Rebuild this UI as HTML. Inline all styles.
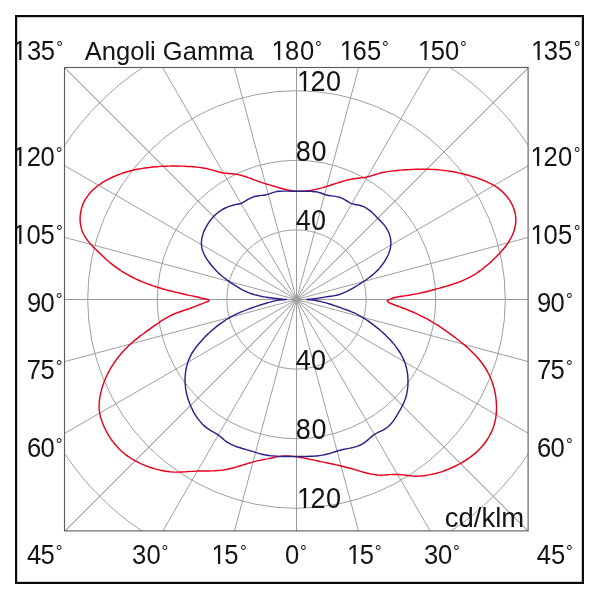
<!DOCTYPE html>
<html lang="it"><head><meta charset="utf-8"><title>Angoli Gamma</title>
<style>html,body{margin:0;padding:0;background:#fff}body{width:600px;height:600px;overflow:hidden}svg{display:block}text{font-family:"Liberation Sans",sans-serif;fill:#141414}</style></head><body>
<svg width="600" height="600" viewBox="0 0 600 600">
<rect x="0" y="0" width="600" height="600" fill="#fff"/>
<defs><clipPath id="c"><rect x="64.5" y="67.5" width="463.6" height="463.4"/></clipPath>
<clipPath id="one"><path clip-rule="evenodd" d="M-5,-40H140V12H-5Z M1.35,-2.62H6.48V2H1.35Z M8.65,-2.62H13.43V2H8.65Z"/></clipPath><clipPath id="oneb"><path clip-rule="evenodd" d="M-5,-40H140V12H-5Z M1.45,-2.72H6.83V2H1.45Z M9.13,-2.72H14.14V2H9.13Z"/></clipPath></defs>
<g clip-path="url(#c)" fill="none" stroke="#9f9f9f" stroke-width="1">
<circle cx="296.5" cy="299.5" r="69.6"/>
<circle cx="296.5" cy="299.5" r="139.2"/>
<circle cx="296.5" cy="299.5" r="208.8"/>
<circle cx="296.5" cy="299.5" r="278.4"/>
<line x1="296.5" y1="299.5" x2="296.5" y2="699.5" stroke="#9a9a9a"/>
<line x1="296.5" y1="299.5" x2="400.03" y2="685.87"/>
<line x1="296.5" y1="299.5" x2="496.5" y2="645.91"/>
<line x1="296.5" y1="299.5" x2="579.34" y2="582.34" stroke-width="1.04"/>
<line x1="296.5" y1="299.5" x2="642.91" y2="499.5"/>
<line x1="296.5" y1="299.5" x2="682.87" y2="403.03"/>
<line x1="296.5" y1="299.5" x2="696.5" y2="299.5" stroke="#9a9a9a"/>
<line x1="296.5" y1="299.5" x2="682.87" y2="195.97"/>
<line x1="296.5" y1="299.5" x2="642.91" y2="99.5"/>
<line x1="296.5" y1="299.5" x2="579.34" y2="16.66" stroke-width="1.04"/>
<line x1="296.5" y1="299.5" x2="496.5" y2="-46.91"/>
<line x1="296.5" y1="299.5" x2="400.03" y2="-86.87"/>
<line x1="296.5" y1="299.5" x2="296.5" y2="-100.5" stroke="#9a9a9a"/>
<line x1="296.5" y1="299.5" x2="192.97" y2="-86.87"/>
<line x1="296.5" y1="299.5" x2="96.5" y2="-46.91"/>
<line x1="296.5" y1="299.5" x2="13.66" y2="16.66" stroke-width="1.04"/>
<line x1="296.5" y1="299.5" x2="-49.91" y2="99.5"/>
<line x1="296.5" y1="299.5" x2="-89.87" y2="195.97"/>
<line x1="296.5" y1="299.5" x2="-103.5" y2="299.5" stroke="#9a9a9a"/>
<line x1="296.5" y1="299.5" x2="-89.87" y2="403.03"/>
<line x1="296.5" y1="299.5" x2="-49.91" y2="499.5"/>
<line x1="296.5" y1="299.5" x2="13.66" y2="582.34" stroke-width="1.04"/>
<line x1="296.5" y1="299.5" x2="96.5" y2="645.91"/>
<line x1="296.5" y1="299.5" x2="192.97" y2="685.87"/>
</g>
<circle cx="296.5" cy="299.5" r="2.8" fill="#9f9f9f"/>
<rect x="64.5" y="67.5" width="463.6" height="463.4" fill="none" stroke="#5a5a5a" stroke-width="1.1"/>
<path d="M207.9,299.7C207.1 299.4 205.3 299 204 298.7C202.7 298.4 201.4 298.1 200.1 297.8C198.8 297.4 197.5 297.1 196.2 296.8C194.9 296.5 193.6 296.2 192.3 295.9C191 295.7 189.7 295.4 188.4 295.1C187.1 294.8 185.8 294.5 184.4 294.2C183.1 293.9 181.8 293.6 180.5 293.3C179.2 293 177.9 292.7 176.6 292.4C175.3 292.1 173.9 291.8 172.6 291.4C171.3 291.1 170 290.8 168.7 290.5C167.4 290.1 166.1 289.8 164.8 289.4C163.5 289.1 162.2 288.7 160.9 288.3C159.6 287.9 158.4 287.5 157.1 287.1C155.8 286.7 154.5 286.3 153.2 285.9C152 285.4 150.7 285 149.4 284.5C148.2 284.1 146.9 283.6 145.7 283.1C144.4 282.6 143.2 282.1 141.9 281.6C140.7 281.1 139.5 280.6 138.2 280C137 279.5 135.8 278.9 134.6 278.3C133.4 277.7 132.2 277.1 131 276.5C129.8 275.9 128.6 275.3 127.5 274.6C126.3 274 125.1 273.3 124 272.6C122.9 271.9 121.7 271.2 120.6 270.5C119.5 269.8 118.4 269 117.3 268.2C116.2 267.5 115.1 266.7 114 265.9C112.9 265 111.9 264.2 110.8 263.4C109.8 262.5 108.8 261.6 107.7 260.7C106.7 259.8 105.7 258.9 104.7 258C103.7 257.1 102.8 256.1 101.8 255.2C100.8 254.3 99.9 253.4 98.9 252.5C98 251.6 97 250.7 96.1 249.7C95.1 248.8 94.2 247.9 93.3 246.9C92.4 246 91.4 245 90.5 244C89.6 243 88.7 241.9 87.9 240.9C87.1 239.8 86.2 238.7 85.5 237.5C84.8 236.4 84.1 235.2 83.5 234C82.9 232.7 82.4 231.5 81.9 230.2C81.5 228.9 81.1 227.6 80.8 226.2C80.6 224.9 80.4 223.6 80.2 222.2C80.1 220.9 80.1 219.5 80.1 218.1C80.1 216.8 80.2 215.4 80.4 214.1C80.5 212.7 80.8 211.4 81.1 210.1C81.4 208.7 81.8 207.4 82.2 206.2C82.6 204.9 83.1 203.6 83.7 202.4C84.3 201.2 84.9 200 85.6 198.9C86.3 197.7 87.1 196.6 87.9 195.6C88.7 194.5 89.5 193.5 90.4 192.5C91.3 191.5 92.3 190.6 93.3 189.6C94.2 188.7 95.3 187.8 96.3 187C97.4 186.1 98.5 185.3 99.6 184.5C100.7 183.7 101.9 183 103 182.2C104.2 181.5 105.4 180.8 106.6 180.2C107.8 179.5 109 178.9 110.2 178.3C111.4 177.7 112.6 177.1 113.9 176.5C115.1 176 116.3 175.5 117.6 175C118.9 174.5 120.1 174 121.4 173.6C122.7 173.1 123.9 172.7 125.2 172.3C126.5 171.9 127.8 171.5 129.1 171.2C130.4 170.8 131.7 170.5 133 170.2C134.3 169.9 135.6 169.6 136.9 169.3C138.2 169.1 139.6 168.8 140.9 168.6C142.2 168.4 143.5 168.2 144.9 168C146.2 167.8 147.5 167.6 148.9 167.5C150.2 167.3 151.5 167.2 152.9 167C154.2 166.9 155.5 166.8 156.9 166.7C158.2 166.6 159.5 166.5 160.9 166.4C162.2 166.3 163.5 166.3 164.9 166.2C166.2 166.2 167.5 166.1 168.9 166.1C170.2 166.1 171.5 166 172.9 166C174.2 166 175.5 166 176.9 166C178.2 166.1 179.5 166.1 180.9 166.1C182.2 166.1 183.5 166.2 184.9 166.2C186.2 166.3 187.5 166.4 188.9 166.4C190.2 166.5 191.6 166.6 192.9 166.7C194.2 166.8 195.6 166.9 196.9 167.1C198.3 167.2 199.6 167.4 200.9 167.6C202.2 167.8 203.6 168 204.9 168.3C206.2 168.5 207.5 168.8 208.8 169.1C210.1 169.5 211.4 169.8 212.7 170.2C214 170.6 215.2 171 216.5 171.3C217.8 171.7 219.1 172 220.4 172.3C221.8 172.6 223.1 172.9 224.4 173.1C225.7 173.2 227.1 173.4 228.5 173.5C229.8 173.6 231.2 173.7 232.6 173.8C233.9 174 235.3 174.1 236.6 174.3C237.9 174.6 239.2 174.8 240.6 175.2C241.9 175.5 243.1 175.9 244.4 176.3C245.7 176.7 247 177.1 248.2 177.6C249.5 178 250.8 178.5 252 179C253.3 179.5 254.5 180 255.8 180.4C257 180.9 258.3 181.3 259.6 181.8C260.8 182.2 262.1 182.6 263.4 183.1C264.7 183.5 265.9 183.9 267.2 184.2C268.5 184.6 269.8 185 271.1 185.4C272.4 185.8 273.7 186.1 275 186.5C276.3 186.9 277.6 187.3 278.9 187.7C280.2 188 281.5 188.4 282.8 188.7C284.1 189.1 285.4 189.4 286.8 189.7C288.1 190 289.4 190.3 290.7 190.5C292.1 190.7 293.4 190.9 294.7 191.1C296.1 191.2 297.4 191.3 298.7 191.3C300.1 191.4 301.4 191.3 302.8 191.3C304.1 191.2 305.4 191.1 306.8 190.9C308.1 190.8 309.5 190.6 310.8 190.4C312.1 190.1 313.5 189.9 314.8 189.6C316.2 189.3 317.5 189 318.8 188.6C320.1 188.3 321.5 187.9 322.8 187.6C324.1 187.2 325.4 186.8 326.7 186.4C328 186 329.3 185.6 330.6 185.2C331.9 184.7 333.2 184.3 334.4 183.9C335.7 183.5 337 183.1 338.3 182.7C339.5 182.3 340.8 181.9 342.1 181.5C343.3 181.1 344.6 180.7 345.9 180.4C347.2 180.1 348.5 179.8 349.8 179.5C351.1 179.2 352.4 179 353.7 178.7C355 178.5 356.4 178.4 357.8 178.2C359.1 178.1 360.5 177.9 361.9 177.8C363.2 177.6 364.6 177.4 365.9 177.2C367.3 176.9 368.6 176.6 369.9 176.3C371.2 175.9 372.5 175.5 373.7 175.1C375 174.7 376.3 174.3 377.6 173.9C378.8 173.5 380.1 173.1 381.4 172.8C382.7 172.5 384 172.2 385.3 172C386.6 171.7 387.9 171.5 389.2 171.4C390.6 171.2 391.9 171 393.2 170.9C394.6 170.7 395.9 170.6 397.2 170.5C398.6 170.4 399.9 170.2 401.2 170.1C402.6 170 403.9 169.9 405.3 169.8C406.6 169.7 408 169.7 409.3 169.6C410.7 169.5 412 169.4 413.4 169.4C414.7 169.3 416.1 169.3 417.4 169.2C418.8 169.2 420.1 169.2 421.5 169.2C422.8 169.2 424.2 169.2 425.5 169.2C426.9 169.2 428.2 169.2 429.5 169.3C430.9 169.3 432.2 169.4 433.6 169.4C434.9 169.5 436.2 169.6 437.6 169.7C438.9 169.8 440.3 170 441.6 170.1C442.9 170.2 444.2 170.4 445.6 170.6C446.9 170.8 448.2 171 449.5 171.2C450.9 171.4 452.2 171.6 453.5 171.8C454.8 172.1 456.1 172.4 457.4 172.6C458.7 172.9 460 173.2 461.4 173.5C462.7 173.8 464 174.1 465.2 174.5C466.5 174.8 467.8 175.2 469.1 175.5C470.4 175.9 471.7 176.3 473 176.7C474.3 177.1 475.5 177.5 476.8 177.9C478.1 178.4 479.4 178.8 480.6 179.3C481.9 179.7 483.1 180.2 484.4 180.7C485.6 181.3 486.8 181.8 488.1 182.4C489.3 182.9 490.4 183.5 491.6 184.2C492.8 184.8 493.9 185.5 495.1 186.2C496.2 186.9 497.3 187.6 498.4 188.4C499.4 189.2 500.5 190 501.5 190.9C502.5 191.8 503.5 192.7 504.4 193.7C505.3 194.7 506.3 195.7 507.1 196.8C508 197.9 508.8 199 509.6 200.2C510.3 201.3 511 202.6 511.7 203.8C512.3 205 512.9 206.3 513.4 207.6C513.9 208.8 514.4 210.2 514.7 211.5C515.1 212.8 515.4 214.1 515.5 215.5C515.7 216.8 515.8 218.2 515.8 219.5C515.8 220.9 515.7 222.2 515.6 223.6C515.4 224.9 515.2 226.2 514.9 227.6C514.6 228.9 514.2 230.2 513.8 231.5C513.3 232.8 512.8 234 512.3 235.3C511.7 236.5 511.1 237.7 510.4 238.9C509.8 240.1 509.1 241.2 508.4 242.4C507.6 243.5 506.9 244.6 506.1 245.7C505.3 246.8 504.4 247.8 503.6 248.8C502.7 249.9 501.8 250.9 500.9 251.9C500 252.9 499.1 253.9 498.1 254.8C497.2 255.8 496.3 256.8 495.3 257.7C494.3 258.6 493.4 259.6 492.4 260.5C491.4 261.4 490.5 262.3 489.5 263.2C488.5 264.1 487.5 265 486.4 265.8C485.4 266.7 484.4 267.5 483.4 268.3C482.3 269.1 481.3 269.9 480.2 270.7C479.1 271.5 478 272.3 476.9 273C475.8 273.8 474.6 274.5 473.5 275.2C472.3 275.8 471.1 276.5 470 277.1C468.8 277.8 467.6 278.4 466.3 278.9C465.1 279.5 463.9 280.1 462.6 280.6C461.4 281.1 460.2 281.6 458.9 282.1C457.6 282.5 456.4 283 455.1 283.4C453.8 283.9 452.5 284.3 451.2 284.7C449.9 285.1 448.6 285.5 447.4 285.9C446.1 286.3 444.8 286.7 443.4 287C442.1 287.4 440.8 287.8 439.6 288.1C438.3 288.5 437 288.8 435.7 289.2C434.4 289.5 433.1 289.9 431.8 290.2C430.5 290.6 429.2 290.9 427.9 291.2C426.6 291.6 425.3 291.9 424 292.2C422.7 292.5 421.4 292.8 420.1 293.1C418.8 293.4 417.5 293.7 416.2 293.9C414.9 294.2 413.5 294.4 412.2 294.6C410.9 294.8 409.5 295.1 408.2 295.3C406.9 295.5 405.5 295.7 404.2 295.9C402.8 296.1 401.5 296.3 400.1 296.5C398.8 296.8 397.5 297 396.1 297.2C394.8 297.5 393.5 297.8 392.3 298.2C391 298.7 389.4 299.3 388.6 299.8C387.8 300.3 387.3 300.6 387.3 301C387.3 301.4 387.8 301.8 388.6 302.3C389.4 302.8 391 303.5 392.2 304C393.4 304.5 394.7 305 395.9 305.5C397.2 305.9 398.5 306.4 399.7 306.9C401 307.3 402.2 307.8 403.5 308.3C404.8 308.7 406 309.2 407.2 309.7C408.5 310.2 409.7 310.7 410.9 311.3C412.2 311.8 413.4 312.3 414.6 312.9C415.8 313.4 417.1 314 418.3 314.6C419.5 315.1 420.7 315.7 421.9 316.3C423.1 316.9 424.3 317.5 425.5 318.2C426.7 318.8 427.9 319.4 429.1 320.1C430.2 320.8 431.4 321.4 432.5 322.1C433.7 322.8 434.8 323.5 435.9 324.2C437.1 324.9 438.2 325.6 439.3 326.4C440.4 327.1 441.5 327.8 442.6 328.6C443.8 329.3 444.9 330.1 445.9 330.9C447 331.6 448.1 332.4 449.2 333.2C450.3 334 451.4 334.8 452.5 335.6C453.6 336.4 454.6 337.2 455.7 338C456.8 338.8 457.9 339.6 458.9 340.5C460 341.3 461 342.2 462.1 343C463.1 343.9 464.1 344.7 465.2 345.6C466.2 346.5 467.2 347.4 468.2 348.3C469.2 349.2 470.2 350.1 471.1 351.1C472.1 352 473.1 352.9 474 353.9C474.9 354.9 475.8 355.8 476.7 356.8C477.6 357.8 478.5 358.8 479.3 359.8C480.2 360.9 481 361.9 481.8 363C482.6 364 483.3 365.1 484.1 366.2C484.8 367.3 485.5 368.4 486.2 369.5C486.9 370.6 487.6 371.8 488.2 373C488.8 374.1 489.4 375.3 489.9 376.5C490.5 377.8 491 379 491.5 380.2C492 381.5 492.4 382.7 492.8 384C493.2 385.3 493.6 386.6 493.9 387.9C494.3 389.2 494.6 390.5 494.9 391.9C495.2 393.2 495.4 394.5 495.6 395.9C495.8 397.2 496 398.6 496.1 399.9C496.2 401.2 496.4 402.6 496.4 403.9C496.5 405.2 496.5 406.6 496.5 407.9C496.5 409.2 496.5 410.6 496.4 411.9C496.3 413.2 496.2 414.5 496 415.9C495.9 417.2 495.7 418.5 495.4 419.8C495.1 421.1 494.8 422.5 494.4 423.8C494.1 425.1 493.6 426.4 493.2 427.7C492.7 429 492.2 430.3 491.6 431.6C491.1 432.8 490.5 434 489.8 435.2C489.2 436.4 488.5 437.6 487.8 438.7C487.1 439.9 486.4 441 485.6 442C484.8 443.1 484 444.2 483.1 445.2C482.3 446.2 481.4 447.2 480.5 448.1C479.6 449.1 478.7 450 477.7 450.9C476.7 451.9 475.8 452.7 474.7 453.6C473.7 454.5 472.7 455.3 471.6 456.1C470.6 456.9 469.5 457.7 468.4 458.4C467.3 459.2 466.2 460 465.1 460.7C464 461.4 462.8 462.1 461.6 462.8C460.5 463.4 459.3 464.1 458.1 464.7C456.9 465.4 455.7 466 454.5 466.5C453.3 467.1 452.1 467.7 450.9 468.2C449.6 468.8 448.4 469.3 447.1 469.8C445.9 470.2 444.6 470.7 443.3 471.1C442 471.6 440.8 472 439.5 472.4C438.2 472.8 436.9 473.1 435.6 473.5C434.3 473.8 433 474.1 431.6 474.4C430.3 474.7 429 474.9 427.7 475.1C426.4 475.4 425 475.6 423.7 475.7C422.4 475.9 421 476 419.7 476.1C418.4 476.1 417 476.2 415.7 476.2C414.3 476.1 413 476.1 411.6 475.9C410.3 475.8 409 475.7 407.6 475.5C406.3 475.3 404.9 475.1 403.6 474.9C402.2 474.8 400.9 474.6 399.6 474.5C398.2 474.4 396.9 474.4 395.5 474.4C394.2 474.4 392.8 474.4 391.5 474.5C390.1 474.6 388.8 474.7 387.4 474.8C386.1 474.9 384.7 475.1 383.4 475.1C382.1 475.2 380.7 475.2 379.4 475.1C378.1 475.1 376.7 475 375.4 474.8C374.1 474.6 372.8 474.4 371.5 474.1C370.1 473.9 368.8 473.6 367.5 473.3C366.2 472.9 364.9 472.6 363.6 472.2C362.3 471.8 361 471.4 359.7 471.1C358.4 470.7 357.1 470.3 355.8 469.9C354.5 469.5 353.2 469.1 351.9 468.8C350.6 468.4 349.3 468.1 348.1 467.7C346.8 467.4 345.5 467.1 344.2 466.7C342.9 466.4 341.6 466.1 340.3 465.8C339 465.5 337.7 465.2 336.4 464.9C335.1 464.6 333.8 464.3 332.5 464C331.2 463.8 329.9 463.5 328.6 463.2C327.3 462.9 326 462.7 324.7 462.4C323.4 462.1 322.1 461.8 320.8 461.6C319.5 461.3 318.2 461 316.9 460.7C315.6 460.5 314.3 460.2 313 459.9C311.6 459.6 310.3 459.3 309 459.1C307.7 458.8 306.4 458.5 305.1 458.3C303.8 458 302.4 457.8 301.1 457.5C299.8 457.3 298.5 457.1 297.1 456.9C295.8 456.7 294.4 456.5 293.1 456.4C291.8 456.3 290.4 456.1 289.1 456.1C287.7 456 286.4 455.9 285 455.9C283.6 455.9 282.3 456 280.9 456.2C279.6 456.4 278.3 456.7 276.9 456.9C275.6 457.2 274.3 457.5 272.9 457.8C271.6 458.1 270.3 458.3 268.9 458.6C267.6 458.8 266.3 459 265 459.3C263.7 459.5 262.4 459.8 261 460.1C259.7 460.3 258.4 460.6 257.1 460.9C255.8 461.2 254.5 461.5 253.2 461.9C251.9 462.2 250.6 462.6 249.3 463C248 463.4 246.8 463.8 245.5 464.2C244.2 464.6 242.9 465 241.6 465.4C240.3 465.8 239 466.2 237.7 466.6C236.4 466.9 235.1 467.3 233.8 467.7C232.5 468 231.2 468.4 229.9 468.7C228.6 469 227.3 469.3 226 469.5C224.7 469.7 223.4 469.9 222.1 470.1C220.7 470.3 219.4 470.4 218.1 470.5C216.7 470.6 215.4 470.7 214.1 470.8C212.7 470.8 211.4 470.8 210.1 470.9C208.7 470.9 207.4 470.9 206 470.9C204.7 470.9 203.3 470.9 202 470.9C200.6 470.9 199.3 471 197.9 471C196.6 471.1 195.2 471.1 193.9 471.2C192.5 471.2 191.2 471.3 189.8 471.4C188.5 471.5 187.1 471.7 185.8 471.8C184.5 471.8 183.1 471.9 181.8 472C180.5 472.1 179.1 472.1 177.8 472.1C176.4 472.2 175.1 472.1 173.8 472.1C172.4 472 171.1 471.9 169.8 471.8C168.5 471.7 167.1 471.5 165.8 471.3C164.5 471.1 163.2 470.8 161.9 470.5C160.5 470.3 159.2 470 157.9 469.6C156.6 469.3 155.3 468.9 154 468.6C152.7 468.2 151.5 467.8 150.2 467.3C148.9 466.9 147.6 466.4 146.3 466C145.1 465.5 143.8 465 142.6 464.4C141.4 463.9 140.1 463.3 138.9 462.7C137.7 462.1 136.5 461.5 135.3 460.9C134.2 460.2 133 459.6 131.8 458.9C130.7 458.1 129.6 457.4 128.5 456.6C127.4 455.9 126.3 455.1 125.2 454.3C124.2 453.5 123.2 452.6 122.2 451.7C121.2 450.9 120.2 449.9 119.2 449C118.3 448.1 117.4 447.1 116.5 446.1C115.6 445.1 114.7 444.1 113.9 443C113.1 441.9 112.3 440.9 111.5 439.8C110.7 438.7 110 437.5 109.2 436.4C108.5 435.2 107.9 434.1 107.2 432.9C106.5 431.7 105.9 430.5 105.3 429.3C104.7 428.1 104.2 426.8 103.6 425.6C103.1 424.3 102.6 423.1 102.1 421.8C101.7 420.6 101.2 419.3 100.8 418C100.5 416.7 100.1 415.4 99.9 414.1C99.6 412.8 99.4 411.5 99.3 410.2C99.2 408.9 99.1 407.5 99.1 406.2C99.1 404.9 99.2 403.5 99.3 402.2C99.4 400.9 99.5 399.5 99.7 398.2C99.9 396.9 100.2 395.5 100.5 394.2C100.7 392.9 101.1 391.6 101.4 390.3C101.7 389 102.1 387.7 102.5 386.4C102.9 385.2 103.4 383.9 103.8 382.6C104.3 381.4 104.8 380.2 105.3 378.9C105.8 377.7 106.4 376.5 107 375.3C107.5 374.1 108.1 372.9 108.8 371.7C109.4 370.5 110.1 369.4 110.7 368.2C111.4 367 112.1 365.9 112.8 364.8C113.6 363.7 114.3 362.6 115.1 361.5C115.8 360.4 116.6 359.3 117.5 358.2C118.3 357.2 119.1 356.1 120 355.1C120.8 354 121.7 353 122.6 352C123.5 351 124.4 350 125.3 349.1C126.2 348.1 127.2 347.1 128.1 346.2C129.1 345.3 130.1 344.4 131.1 343.5C132 342.6 133.1 341.7 134.1 340.8C135.1 339.9 136.1 339.1 137.2 338.3C138.2 337.5 139.3 336.7 140.3 335.9C141.4 335 142.5 334.3 143.6 333.5C144.6 332.7 145.7 331.9 146.8 331.1C147.9 330.4 149 329.6 150.1 328.8C151.2 328 152.3 327.2 153.3 326.4C154.4 325.7 155.5 324.9 156.7 324.1C157.8 323.4 158.9 322.6 160 321.9C161.1 321.1 162.2 320.4 163.4 319.7C164.5 319 165.7 318.3 166.8 317.6C168 317 169.2 316.3 170.4 315.7C171.6 315.1 172.8 314.5 174 314C175.2 313.5 176.4 313 177.7 312.5C179 312 180.2 311.6 181.5 311.2C182.8 310.7 184.1 310.3 185.3 309.9C186.6 309.5 187.9 309.1 189.1 308.7C190.4 308.2 191.6 307.8 192.9 307.3C194.1 306.8 195.4 306.3 196.6 305.8C197.9 305.3 199.1 304.8 200.4 304.3C201.6 303.8 202.9 303.3 204.1 302.9C205.4 302.4 207.1 302 207.9 301.6C208.7 301.2 209.1 300.9 209.1 300.6C209.1 300.3 208.7 300 207.9 299.7Z" fill="none" stroke="#e8001d" stroke-width="1.45" stroke-linejoin="round" stroke-linecap="round"/>
<path d="M286.3,299.5C285.6 299.4 283.6 299.2 282.3 299.1C281 299 279.6 298.9 278.3 298.7C276.9 298.6 275.6 298.4 274.2 298.3C272.9 298.1 271.5 298 270.2 297.8C268.8 297.6 267.5 297.4 266.1 297.2C264.8 297 263.5 296.7 262.1 296.5C260.8 296.2 259.5 295.9 258.2 295.6C256.8 295.3 255.5 294.9 254.2 294.6C253 294.2 251.7 293.8 250.4 293.3C249.2 292.8 247.9 292.3 246.7 291.8C245.4 291.3 244.2 290.7 243 290.1C241.8 289.4 240.6 288.8 239.5 288.1C238.3 287.4 237.1 286.7 236 286C234.8 285.3 233.7 284.6 232.6 283.9C231.4 283.1 230.3 282.4 229.2 281.6C228.1 280.8 227 280.1 226 279.2C224.9 278.4 223.8 277.6 222.8 276.8C221.8 275.9 220.8 275.1 219.8 274.2C218.8 273.3 217.9 272.4 216.9 271.5C216 270.5 215.1 269.6 214.2 268.6C213.3 267.6 212.4 266.6 211.6 265.5C210.7 264.5 209.9 263.4 209.1 262.3C208.3 261.1 207.5 260 206.7 258.8C206 257.6 205.2 256.4 204.6 255.2C203.9 253.9 203.3 252.7 202.9 251.4C202.4 250.1 202 248.8 201.8 247.5C201.6 246.2 201.4 244.8 201.4 243.5C201.4 242.2 201.5 240.9 201.7 239.5C201.9 238.2 202.2 236.9 202.5 235.6C202.9 234.3 203.3 233 203.8 231.7C204.3 230.4 204.9 229.2 205.6 227.9C206.2 226.7 206.9 225.5 207.6 224.3C208.3 223.1 209.1 222 209.9 220.9C210.7 219.8 211.6 218.8 212.5 217.7C213.4 216.7 214.4 215.8 215.3 214.8C216.3 213.9 217.4 213 218.4 212.2C219.5 211.4 220.6 210.6 221.8 209.9C222.9 209.2 224.1 208.6 225.3 208C226.5 207.4 227.8 206.9 229.1 206.4C230.4 206 231.7 205.6 233 205.2C234.3 204.9 235.6 204.6 237 204.3C238.3 204 239.7 203.9 240.9 203.5C242.2 203 243.3 202.3 244.5 201.6C245.7 200.9 246.8 200 248 199.3C249.2 198.7 250.4 198.1 251.7 197.6C253 197.1 254.3 196.7 255.6 196.3C256.9 196 258.3 195.8 259.6 195.6C260.9 195.4 262.3 195.4 263.6 195.2C264.9 195 266.3 194.8 267.6 194.4C268.9 194.1 270.2 193.5 271.5 193.1C272.8 192.7 274.1 192.2 275.4 191.9C276.7 191.5 278 191.4 279.4 191.2C280.8 191.1 282.1 191.1 283.5 191.1C284.8 191.1 286.2 191.1 287.6 191.1C288.9 191.1 290.3 191.1 291.6 191.2C293 191.2 294.3 191.2 295.7 191.2C297 191.2 298.4 191.2 299.7 191.2C301.1 191.2 302.4 191.1 303.8 191.2C305.1 191.2 306.5 191.2 307.8 191.2C309.2 191.2 310.5 191.3 311.9 191.4C313.2 191.5 314.6 191.6 315.9 191.8C317.2 192 318.5 192.3 319.8 192.7C321.1 193.1 322.4 193.6 323.6 194C324.9 194.5 326.2 194.9 327.5 195.2C328.8 195.6 330.2 195.7 331.6 195.9C332.9 196.1 334.3 196.2 335.6 196.4C337 196.6 338.3 196.8 339.6 197.2C340.9 197.6 342.2 198.2 343.4 198.8C344.6 199.4 345.7 200.3 346.9 201C348.1 201.7 349.2 202.5 350.4 203.1C351.6 203.6 352.9 204 354.2 204.3C355.5 204.6 356.9 204.7 358.3 205C359.6 205.3 361 205.7 362.3 206.2C363.5 206.7 364.8 207.3 365.9 207.9C367.1 208.6 368.2 209.4 369.3 210.2C370.4 211 371.4 211.9 372.4 212.8C373.4 213.7 374.4 214.7 375.4 215.7C376.3 216.6 377.3 217.6 378.2 218.6C379.2 219.5 380.1 220.5 381 221.5C381.9 222.4 382.9 223.4 383.7 224.4C384.5 225.5 385.4 226.5 386.1 227.6C386.8 228.8 387.5 230 388.1 231.2C388.7 232.4 389.3 233.8 389.7 235.1C390.1 236.5 390.4 237.9 390.6 239.2C390.8 240.6 390.9 242 390.9 243.4C390.9 244.8 390.7 246.2 390.5 247.5C390.3 248.8 389.9 250.2 389.5 251.4C389.1 252.7 388.6 254 388 255.3C387.5 256.5 386.8 257.7 386.1 258.9C385.5 260.1 384.8 261.2 384 262.4C383.3 263.5 382.5 264.5 381.6 265.6C380.8 266.7 379.9 267.7 379.1 268.7C378.2 269.7 377.2 270.6 376.3 271.5C375.3 272.5 374.3 273.4 373.3 274.3C372.3 275.1 371.3 276 370.2 276.8C369.2 277.6 368.1 278.5 367 279.2C366 280 364.8 280.8 363.7 281.5C362.6 282.3 361.5 283 360.3 283.7C359.2 284.4 358 285.1 356.9 285.8C355.7 286.5 354.5 287.1 353.4 287.8C352.2 288.5 351 289.1 349.8 289.8C348.6 290.5 347.4 291.1 346.2 291.7C345 292.3 343.8 292.9 342.5 293.4C341.3 293.9 340 294.3 338.7 294.7C337.4 295 336.1 295.3 334.7 295.6C333.4 295.9 332 296.1 330.7 296.3C329.3 296.5 328 296.6 326.6 296.8C325.3 297 323.9 297.2 322.6 297.5C321.3 297.7 320 297.9 318.6 298.1C317.3 298.3 316 298.5 314.7 298.7C313.4 298.9 312 299.1 310.7 299.2C309.4 299.3 307.4 299.4 306.7 299.5 L306.7,299.5C307.4 299.6 309.5 299.7 310.8 299.8C312.2 300 313.5 300.2 314.9 300.4C316.2 300.6 317.6 300.9 318.9 301.1C320.2 301.4 321.5 301.7 322.9 302.1C324.2 302.4 325.5 302.7 326.8 303.1C328.1 303.5 329.4 303.9 330.7 304.3C332 304.7 333.2 305.2 334.5 305.6C335.8 306 337.1 306.5 338.4 306.9C339.6 307.4 340.9 307.9 342.2 308.3C343.4 308.8 344.7 309.3 346 309.7C347.2 310.2 348.5 310.6 349.8 311.1C351 311.6 352.3 312.1 353.5 312.6C354.8 313.2 356 313.7 357.2 314.3C358.4 314.9 359.6 315.6 360.7 316.3C361.9 317 363.1 317.7 364.2 318.4C365.3 319.1 366.5 319.9 367.6 320.6C368.7 321.4 369.8 322.2 370.9 322.9C372 323.7 373.1 324.5 374.1 325.4C375.2 326.2 376.3 327 377.3 327.9C378.4 328.7 379.4 329.6 380.4 330.5C381.4 331.3 382.4 332.2 383.4 333.1C384.4 334.1 385.4 335 386.3 335.9C387.3 336.9 388.2 337.9 389.2 338.8C390.1 339.8 391 340.8 391.9 341.8C392.8 342.8 393.7 343.9 394.5 344.9C395.4 346 396.2 347.1 397 348.2C397.8 349.3 398.6 350.4 399.3 351.5C400 352.6 400.7 353.8 401.4 355C402 356.1 402.6 357.3 403.2 358.6C403.7 359.8 404.3 361 404.7 362.3C405.2 363.6 405.6 364.9 406 366.2C406.3 367.5 406.6 368.9 406.9 370.2C407.2 371.5 407.4 372.9 407.6 374.3C407.7 375.6 407.8 377 407.9 378.4C408 379.7 408 381.1 408 382.5C408 383.8 407.9 385.2 407.8 386.5C407.7 387.9 407.5 389.2 407.3 390.6C407.1 391.9 406.9 393.2 406.6 394.5C406.2 395.8 405.9 397.1 405.5 398.4C405.1 399.7 404.6 400.9 404.1 402.1C403.5 403.4 402.9 404.6 402.3 405.8C401.7 407.1 401.1 408.3 400.4 409.5C399.7 410.7 399 411.9 398.3 413C397.6 414.2 396.9 415.4 396.2 416.6C395.5 417.8 394.7 418.9 393.9 420.1C393.2 421.2 392.4 422.3 391.5 423.3C390.6 424.3 389.7 425.3 388.7 426.2C387.7 427.1 386.7 427.9 385.5 428.7C384.4 429.4 383.2 430 381.9 430.6C380.7 431.2 379.4 431.7 378.1 432.4C376.9 433 375.7 433.6 374.6 434.4C373.4 435.1 372.4 436 371.3 436.9C370.3 437.7 369.3 438.7 368.2 439.6C367.2 440.5 366.2 441.4 365.1 442.2C364 443 362.9 443.7 361.7 444.3C360.5 445 359.3 445.5 358 445.9C356.8 446.4 355.5 446.8 354.2 447.1C352.9 447.5 351.5 447.8 350.2 448.1C348.8 448.3 347.5 448.6 346.1 448.9C344.8 449.2 343.4 449.4 342.1 449.7C340.8 450.1 339.4 450.4 338.1 450.8C336.8 451.2 335.5 451.6 334.2 452C332.9 452.4 331.7 452.8 330.4 453.2C329.1 453.5 327.8 453.9 326.5 454.2C325.2 454.6 323.9 454.9 322.6 455.1C321.3 455.3 319.9 455.5 318.6 455.7C317.3 455.9 315.9 456 314.6 456.1C313.2 456.2 311.9 456.2 310.5 456.3C309.1 456.4 307.8 456.4 306.4 456.4C305 456.4 303.7 456.4 302.3 456.4C300.9 456.4 299.6 456.4 298.2 456.4C296.8 456.4 295.5 456.4 294.1 456.4C292.8 456.4 291.4 456.4 290.1 456.4C288.7 456.5 287.4 456.5 286.1 456.4C284.7 456.4 283.4 456.4 282 456.4C280.7 456.4 279.4 456.3 278 456.3C276.7 456.2 275.3 456.1 274 456C272.6 455.9 271.3 455.8 269.9 455.6C268.6 455.5 267.2 455.3 265.9 455C264.6 454.8 263.2 454.5 261.9 454.2C260.6 453.9 259.3 453.5 258 453.1C256.7 452.8 255.4 452.3 254.1 451.9C252.8 451.6 251.6 451.1 250.3 450.8C249 450.4 247.7 450 246.3 449.6C245 449.2 243.7 448.8 242.4 448.5C241.1 448.1 239.8 447.7 238.5 447.3C237.2 446.9 236 446.4 234.7 445.9C233.5 445.4 232.2 444.9 231.1 444.3C229.9 443.7 228.7 443.1 227.6 442.4C226.4 441.6 225.4 440.8 224.3 440C223.2 439.1 222.2 438.2 221.1 437.3C220.1 436.5 219 435.6 217.9 434.8C216.8 434 215.6 433.3 214.4 432.6C213.2 431.9 212 431.3 210.8 430.6C209.6 429.9 208.5 429.2 207.4 428.4C206.3 427.6 205.2 426.8 204.2 425.9C203.2 425 202.3 424 201.4 423C200.5 422 199.6 421 198.8 419.9C197.9 418.8 197.1 417.7 196.4 416.6C195.6 415.4 194.9 414.3 194.2 413.1C193.5 411.9 192.9 410.7 192.3 409.4C191.7 408.2 191.1 406.9 190.6 405.7C190 404.4 189.5 403.2 189.1 401.9C188.6 400.6 188.2 399.3 187.8 398C187.4 396.7 187 395.4 186.7 394.1C186.4 392.8 186.2 391.5 185.9 390.2C185.7 388.9 185.5 387.6 185.4 386.2C185.3 384.9 185.2 383.6 185.1 382.2C185.1 380.9 185 379.6 185.1 378.2C185.1 376.9 185.2 375.5 185.4 374.1C185.5 372.8 185.7 371.4 185.9 370C186.2 368.7 186.4 367.3 186.8 365.9C187.1 364.6 187.5 363.3 188 362C188.4 360.7 188.9 359.4 189.5 358.1C190 356.9 190.6 355.6 191.3 354.4C191.9 353.2 192.6 352.1 193.4 351C194.1 349.8 194.9 348.7 195.7 347.7C196.5 346.6 197.4 345.5 198.2 344.5C199.1 343.4 200 342.4 200.9 341.4C201.8 340.4 202.7 339.4 203.6 338.4C204.5 337.4 205.5 336.5 206.4 335.5C207.4 334.6 208.4 333.6 209.4 332.7C210.4 331.8 211.4 330.9 212.4 330C213.4 329.1 214.4 328.3 215.5 327.4C216.5 326.6 217.6 325.7 218.6 324.9C219.7 324.1 220.8 323.3 221.9 322.6C223 321.8 224.1 321.1 225.2 320.3C226.4 319.6 227.5 318.9 228.7 318.2C229.8 317.5 231 316.9 232.2 316.2C233.4 315.6 234.5 315 235.8 314.4C237 313.8 238.2 313.2 239.4 312.7C240.7 312.1 241.9 311.6 243.2 311.1C244.4 310.6 245.7 310.1 247 309.6C248.2 309.2 249.5 308.7 250.8 308.3C252.1 307.8 253.4 307.4 254.6 306.9C255.9 306.5 257.2 306.1 258.5 305.6C259.8 305.2 261 304.8 262.3 304.4C263.6 304 264.9 303.6 266.2 303.2C267.5 302.8 268.7 302.4 270.1 302.1C271.4 301.7 272.7 301.4 274 301.1C275.3 300.8 276.6 300.6 278 300.4C279.3 300.1 280.7 299.9 282.1 299.8C283.5 299.7 285.6 299.6 286.3 299.5 Z" fill="none" stroke="#2a2388" stroke-width="1.45" stroke-linejoin="round" stroke-linecap="round"/>
<g transform="translate(12.8,60.3) scale(1,1.05)"><text x="0 14.3 28" y="0" font-size="25.6" clip-path="url(#one)">135<tspan font-size="17" x="43.4" dy="-6">°</tspan></text></g>
<g transform="translate(84.8,60.3) scale(1,1.04)"><text x="0" y="0" font-size="25.55">Angoli Gamma</text></g>
<g transform="translate(271.6,60.3) scale(1,1.05)"><text x="0 13.4 28.4" y="0" font-size="25.6" clip-path="url(#one)">180<tspan font-size="17" x="43.4" dy="-6">°</tspan></text></g>
<g transform="translate(339.8,60.3) scale(1,1.05)"><text x="0 12.8 27.2" y="0" font-size="25.6" clip-path="url(#one)">165<tspan font-size="17" x="42.1" dy="-6">°</tspan></text></g>
<g transform="translate(417.9,60.3) scale(1,1.05)"><text x="0 12.9 27" y="0" font-size="25.6" clip-path="url(#one)">150<tspan font-size="17" x="42" dy="-6">°</tspan></text></g>
<g transform="translate(531.1,60.3) scale(1,1.05)"><text x="0 12.6 27" y="0" font-size="25.6" clip-path="url(#one)">135<tspan font-size="17" x="42.6" dy="-6">°</tspan></text></g>
<g transform="translate(12.7,166) scale(1,1.05)"><text x="0 14.1 27.8" y="0" font-size="25.6" clip-path="url(#one)">120<tspan font-size="17" x="43" dy="-5.7">°</tspan></text></g>
<g transform="translate(12.7,244) scale(1,1.05)"><text x="0 13.8 27.8" y="0" font-size="25.6" clip-path="url(#one)">105<tspan font-size="17" x="43.2" dy="-6">°</tspan></text></g>
<g transform="translate(27,312.2) scale(1,1.05)"><text x="0 13.5" y="0" font-size="25.6">90<tspan font-size="17" x="28.7" dy="-6">°</tspan></text></g>
<g transform="translate(26.8,379) scale(1,1.05)"><text x="0 13.7" y="0" font-size="25.6">75<tspan font-size="17" x="29" dy="-6">°</tspan></text></g>
<g transform="translate(27,457) scale(1,1.05)"><text x="0 13.5" y="0" font-size="25.6">60<tspan font-size="17" x="28.7" dy="-6">°</tspan></text></g>
<g transform="translate(530.6,166) scale(1,1.05)"><text x="0 12.9 27.4" y="0" font-size="25.6" clip-path="url(#one)">120<tspan font-size="17" x="43.2" dy="-6">°</tspan></text></g>
<g transform="translate(530.6,244) scale(1,1.05)"><text x="0 12.9 27.4" y="0" font-size="25.6" clip-path="url(#one)">105<tspan font-size="17" x="43.2" dy="-6">°</tspan></text></g>
<g transform="translate(537,312.2) scale(1,1.05)"><text x="0 13.5" y="0" font-size="25.6">90<tspan font-size="17" x="28.9" dy="-6">°</tspan></text></g>
<g transform="translate(537,379) scale(1,1.05)"><text x="0 13.5" y="0" font-size="25.6">75<tspan font-size="17" x="28.9" dy="-6">°</tspan></text></g>
<g transform="translate(537,457) scale(1,1.05)"><text x="0 13.5" y="0" font-size="25.6">60<tspan font-size="17" x="28.9" dy="-6">°</tspan></text></g>
<g transform="translate(27,564.2) scale(1,1.05)"><text x="0 13.5" y="0" font-size="25.6">45<tspan font-size="17" x="28.7" dy="-6">°</tspan></text></g>
<g transform="translate(132,564.2) scale(1,1.05)"><text x="0 14.6" y="0" font-size="25.6">30<tspan font-size="17" x="29.5" dy="-6">°</tspan></text></g>
<g transform="translate(211.6,564.2) scale(1,1.05)"><text x="0 12.7" y="0" font-size="25.6" clip-path="url(#one)">15<tspan font-size="17" x="28.3" dy="-6">°</tspan></text></g>
<g transform="translate(285,564.2) scale(1,1.05)"><text x="0" y="0" font-size="25.6">0<tspan font-size="17" x="15" dy="-6">°</tspan></text></g>
<g transform="translate(347,564.2) scale(1,1.05)"><text x="0 12.8" y="0" font-size="25.6" clip-path="url(#one)">15<tspan font-size="17" x="27.8" dy="-6">°</tspan></text></g>
<g transform="translate(424,564.2) scale(1,1.05)"><text x="0 14" y="0" font-size="25.6">30<tspan font-size="17" x="29" dy="-6">°</tspan></text></g>
<g transform="translate(536.8,564.2) scale(1,1.05)"><text x="0 14.1" y="0" font-size="25.6">45<tspan font-size="17" x="29.1" dy="-6">°</tspan></text></g>
<g transform="translate(297,90.9) scale(1,1.07)"><text x="0 13.6 29.1" y="0" font-size="27" clip-path="url(#oneb)">120</text></g>
<g transform="translate(295.8,161.4) scale(1,1.07)"><text x="0 15.65" y="0" font-size="27">80</text></g>
<g transform="translate(295.8,230.4) scale(1,1.07)"><text x="0 15.2" y="0" font-size="27">40</text></g>
<g transform="translate(295.8,369.6) scale(1,1.07)"><text x="0 15.2" y="0" font-size="27">40</text></g>
<g transform="translate(295.8,439.4) scale(1,1.07)"><text x="0 15.65" y="0" font-size="27">80</text></g>
<g transform="translate(297,508) scale(1,1.07)"><text x="0 13.6 29.1" y="0" font-size="27" clip-path="url(#oneb)">120</text></g>
<g transform="translate(444.8,527) scale(1,0.99)"><text x="0" y="0" font-size="27.5">cd/klm</text></g>
<rect x="16.1" y="16.1" width="566.8" height="566.8" fill="none" stroke="#0a0a0a" stroke-width="2.2"/>
</svg></body></html>
